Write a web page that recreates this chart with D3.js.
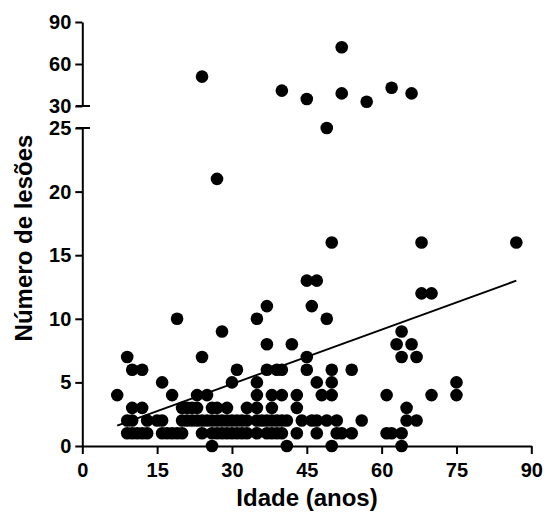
<!DOCTYPE html>
<html>
<head>
<meta charset="utf-8">
<script src="https://cdn.jsdelivr.net/npm/d3@7"></script>
<style>
  body { margin: 0; background: #fff; }
  svg text { font-family: "Liberation Sans", Arial, sans-serif; font-weight: bold; fill: #000; }
</style>
</head>
<body>
<svg id="chart" width="551" height="518"></svg>
<script>
//Age (x) and number of lesions (y), one entry per patient
var idade = [
  26, 41, 50, 64,
  9, 10, 11, 12, 13, 16, 17, 18, 19, 20, 24, 26, 27, 28, 29, 30, 31, 32, 33, 35, 37, 38, 39, 40, 43, 47, 51, 52, 54, 61, 62, 64,
  9, 10, 13, 15, 16, 20, 21, 22, 23, 24, 25, 26, 27, 28, 29, 30, 31, 32, 33, 35, 36, 37, 38, 39, 40, 41, 44, 46, 47, 49, 51, 56, 65, 67,
  10, 12, 20, 21, 22, 23, 26, 27, 29, 33, 35, 38, 43, 65,
  7, 18, 23, 25, 35, 38, 40, 43, 48, 50, 61, 70, 75,
  16, 30, 35, 47, 50, 75,
  10, 12, 31, 37, 39, 40, 45, 50, 54,
  9, 24, 45, 64, 67,
  37, 42, 63, 66,
  28, 64,
  19, 35, 49,
  37, 46,
  68, 70,
  45, 47,
  50, 68, 87,
  27,
  49,
  24, 40, 45, 52, 52, 57, 62, 66
];
var lesoes = [
  0, 0, 0, 0,
  1, 1, 1, 1, 1, 1, 1, 1, 1, 1, 1, 1, 1, 1, 1, 1, 1, 1, 1, 1, 1, 1, 1, 1, 1, 1, 1, 1, 1, 1, 1, 1,
  2, 2, 2, 2, 2, 2, 2, 2, 2, 2, 2, 2, 2, 2, 2, 2, 2, 2, 2, 2, 2, 2, 2, 2, 2, 2, 2, 2, 2, 2, 2, 2, 2, 2,
  3, 3, 3, 3, 3, 3, 3, 3, 3, 3, 3, 3, 3, 3,
  4, 4, 4, 4, 4, 4, 4, 4, 4, 4, 4, 4, 4,
  5, 5, 5, 5, 5, 5,
  6, 6, 6, 6, 6, 6, 6, 6, 6,
  7, 7, 7, 7, 7,
  8, 8, 8, 8,
  9, 9,
  10, 10, 10,
  11, 11,
  12, 12,
  13, 13,
  16, 16, 16,
  21,
  25,
  51, 41, 35, 72, 39, 33, 43, 39
];

//Regression line end points
var fitIdade = [7, 87];
var fitLesoes = [1.6, 13.0];

//Tick values
var xTicks = [0, 15, 30, 45, 60, 75, 90];
var yLowTicks = [0, 5, 10, 15, 20, 25];
var yUpTicks = [30, 60, 90];

var svg = d3.select("#chart");

//Scales: x and a y axis broken in two pieces
var x = d3.scaleLinear().domain([0, 90]).range([82.3, 531.3]);
var yLow = d3.scaleLinear().domain([0, 25]).range([446, 128]);
var yUp = d3.scaleLinear().domain([30, 90]).range([106, 22]);

//Pick the right piece of the axis for a value
function yPos(v) {
  return v > 25 ? yUp(v) : yLow(v);
}

function styleAxis(g) {
  g.selectAll("path, line").attr("stroke", "#000").attr("stroke-width", 2);
  g.selectAll("text").style("font-size", "20px").style("font-weight", "bold")
    .style("font-family", "'Liberation Sans', Arial, sans-serif");
}

//Bottom axis
svg.append("g")
  .attr("transform", "translate(0,446)")
  .call(d3.axisBottom(x).tickValues(xTicks).tickFormat(d3.format("d"))
    .tickSize(8).tickSizeOuter(0).tickPadding(9))
  .call(styleAxis);

//Lower y axis
svg.append("g")
  .attr("transform", "translate(82.3,0)")
  .call(d3.axisLeft(yLow).tickValues(yLowTicks).tickSize(7).tickSizeOuter(0).tickPadding(4))
  .call(styleAxis);

//Upper y axis
svg.append("g")
  .attr("transform", "translate(82.3,0)")
  .call(d3.axisLeft(yUp).tickValues(yUpTicks).tickSize(7).tickSizeOuter(0).tickPadding(4))
  .call(styleAxis);

//Break marks on both ends of the gap
svg.selectAll(".brk")
  .data([yUp(30), yLow(25)])
  .enter().append("line")
  .attr("x1", 76).attr("x2", 90)
  .attr("y1", function(d) { return d; })
  .attr("y2", function(d) { return d; })
  .attr("stroke", "#000").attr("stroke-width", 2);

//Dots
svg.append("g").selectAll("circle")
  .data(idade)
  .enter().append("circle")
  .attr("cx", function(d) { return x(d); })
  .attr("cy", function(d, i) { return yPos(lesoes[i]); })
  .attr("r", 6.3)
  .attr("fill", "#000");

//Regression line
svg.append("line")
  .attr("x1", x(fitIdade[0])).attr("y1", yLow(fitLesoes[0]))
  .attr("x2", x(fitIdade[1])).attr("y2", yLow(fitLesoes[1]))
  .attr("stroke", "#000").attr("stroke-width", 2);

//Axis titles
svg.append("text")
  .attr("x", 307).attr("y", 506)
  .attr("text-anchor", "middle")
  .style("font-size", "24px")
  .text("Idade (anos)");

svg.append("text")
  .attr("transform", "translate(32,238) rotate(-90)")
  .attr("text-anchor", "middle")
  .style("font-size", "24px")
  .text("Número de lesões");
</script>
</body>
</html>
